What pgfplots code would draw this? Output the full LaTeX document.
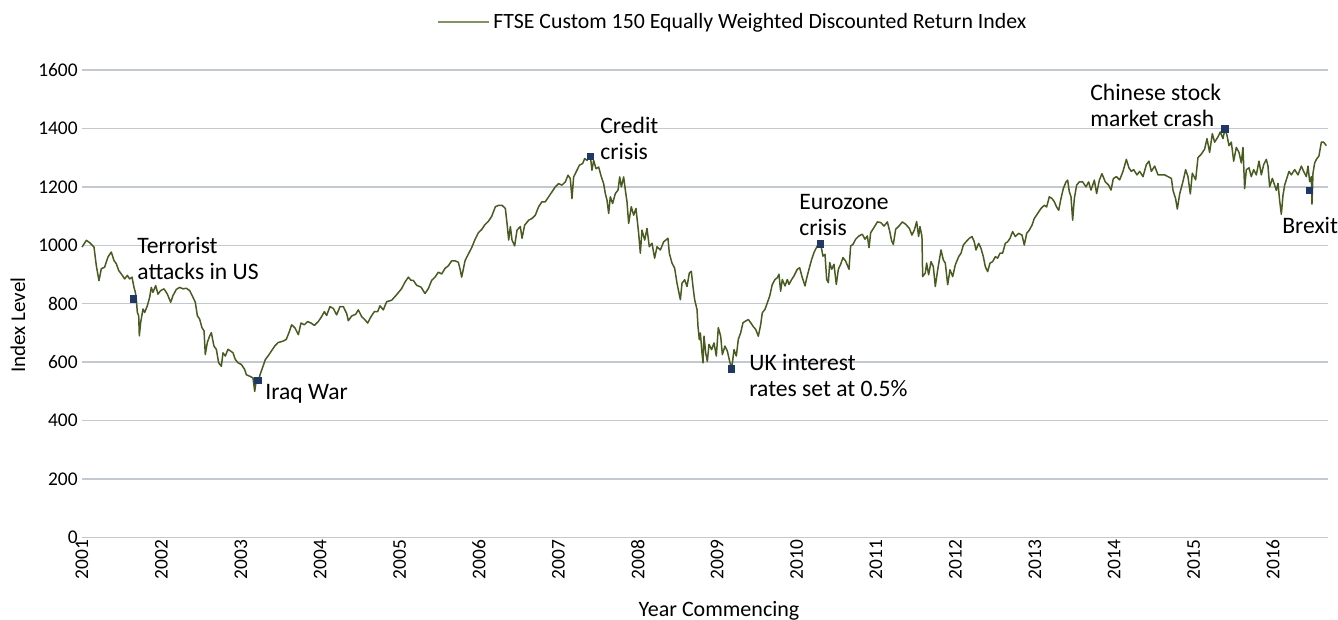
\documentclass[border=0pt]{standalone}
\usepackage{fontspec}
\setmainfont{Carlito}
\usepackage{pgfplots}
\pgfplotsset{compat=1.18}
\definecolor{seriesgreen}{RGB}{72,92,34}
\definecolor{legendgreen}{RGB}{130,148,100}
\definecolor{markerblue}{RGB}{31,56,100}
\definecolor{gridgray}{RGB}{196,200,207}
\begin{document}
\begin{tikzpicture}
\useasboundingbox (0,0) rectangle (669pt,310pt);
\begin{axis}[
  at={(41pt,41.25pt)}, anchor=south west,
  scale only axis, width=623pt, height=233.75pt,
  xmin=0, xmax=15.693, ymin=0, ymax=1600,
  xtick={0,1,2,3,4,5,6,7,8,9,10,11,12,13,14,15},
  xticklabels={2001,2002,2003,2004,2005,2006,2007,2008,2009,2010,2011,2012,2013,2014,2015,2016},
  ytick={0,200,400,600,800,1000,1200,1400,1600},
  yticklabels={0,200,400,600,800,1000,1200,1400,1600},
  ymajorgrids, major grid style={gridgray, line width=0.75pt},
  axis line style={draw=none}, major tick length=0pt,
  tick label style={font=\fontsize{9.7}{11}\selectfont},
  /pgf/number format/assume math mode=true,
  xticklabel style={rotate=90, anchor=east, inner sep=1pt},
  yticklabel style={inner sep=2pt},
  legend style={at={(0.523,1)}, anchor=center, yshift=24pt, draw=none, fill=none,
    font=\fontsize{10.9}{12}\selectfont, inner sep=0pt},
  legend image code/.code={\draw[legendgreen, line width=0.7pt] (0pt,0pt) -- (25.5pt,0pt);},
  clip=false
]
\addplot[seriesgreen, line width=0.75pt, line join=round] table {
0.000 994
0.055 1017
0.097 1009
0.151 994
0.180 931
0.202 897
0.214 879
0.243 920
0.285 925
0.327 960
0.369 977
0.403 948
0.432 937
0.462 914
0.495 902
0.537 885
0.571 897
0.600 885
0.630 891
0.655 856
0.672 839
0.684 816
0.697 770
0.714 759
0.722 690
0.739 736
0.768 782
0.789 770
0.823 793
0.852 822
0.873 856
0.894 839
0.928 862
0.957 833
0.991 845
1.033 851
1.075 833
1.117 805
1.146 828
1.188 849
1.230 856
1.272 851
1.314 853
1.356 845
1.398 822
1.427 805
1.453 759
1.482 747
1.511 718
1.537 707
1.553 626
1.578 667
1.608 690
1.629 701
1.662 655
1.692 644
1.721 598
1.755 586
1.776 632
1.805 621
1.839 644
1.872 638
1.902 632
1.931 609
1.965 598
2.007 592
2.049 575
2.070 557
2.112 552
2.154 546
2.175 500
2.196 540
2.217 534
2.250 563
2.280 586
2.309 609
2.343 621
2.385 638
2.427 655
2.469 667
2.532 672
2.573 678
2.615 707
2.641 728
2.683 717
2.725 694
2.758 734
2.800 728
2.842 739
2.884 734
2.926 726
2.976 739
3.018 756
3.052 773
3.081 760
3.123 790
3.165 784
3.207 762
3.249 790
3.291 790
3.333 767
3.354 742
3.396 758
3.447 764
3.480 779
3.522 756
3.564 745
3.598 734
3.640 756
3.682 773
3.724 773
3.753 793
3.795 779
3.837 807
3.900 812
3.963 831
4.026 852
4.068 874
4.110 891
4.144 880
4.173 880
4.215 863
4.270 857
4.320 835
4.362 852
4.404 880
4.446 891
4.488 908
4.530 902
4.572 921
4.614 930
4.656 947
4.698 947
4.740 942
4.761 919
4.782 891
4.824 947
4.866 970
4.908 992
4.950 1020
4.992 1043
5.034 1054
5.076 1071
5.118 1082
5.160 1099
5.206 1132
5.248 1137
5.290 1137
5.332 1126
5.353 1075
5.374 1018
5.395 1064
5.416 1018
5.449 998
5.479 1052
5.521 1064
5.542 1024
5.575 1069
5.626 1086
5.668 1092
5.709 1103
5.751 1132
5.793 1149
5.835 1149
5.877 1166
5.919 1183
5.961 1200
6.003 1211
6.045 1206
6.087 1217
6.121 1240
6.150 1228
6.171 1160
6.192 1234
6.234 1257
6.264 1274
6.306 1280
6.331 1297
6.360 1291
6.402 1305
6.423 1257
6.444 1291
6.474 1262
6.507 1268
6.541 1234
6.570 1211
6.591 1177
6.612 1155
6.633 1109
6.654 1166
6.683 1143
6.717 1177
6.751 1189
6.772 1234
6.793 1200
6.822 1234
6.843 1189
6.864 1149
6.885 1075
6.918 1132
6.948 1103
6.977 1126
7.011 1041
7.032 973
7.053 1052
7.087 1018
7.116 1058
7.145 995
7.179 1007
7.212 956
7.242 995
7.284 984
7.326 1012
7.380 1024
7.397 973
7.431 939
7.464 922
7.494 870
7.536 814
7.557 870
7.590 882
7.620 859
7.649 905
7.674 911
7.695 859
7.716 814
7.746 780
7.758 723
7.775 677
7.788 700
7.809 631
7.821 598
7.834 689
7.855 632
7.876 603
7.897 661
7.930 643
7.960 666
7.989 621
8.014 718
8.044 689
8.065 626
8.098 655
8.128 638
8.157 603
8.182 577
8.212 643
8.241 621
8.266 678
8.296 701
8.325 735
8.359 741
8.392 746
8.422 735
8.451 723
8.485 712
8.518 689
8.548 729
8.568 769
8.602 781
8.631 803
8.661 826
8.694 866
8.728 883
8.757 889
8.778 901
8.799 843
8.820 883
8.854 861
8.883 883
8.904 866
8.938 883
8.967 895
9.009 918
9.039 923
9.072 889
9.106 861
9.123 883
9.156 918
9.190 952
9.219 975
9.261 998
9.303 1005
9.332 963
9.358 969
9.379 883
9.400 872
9.417 941
9.442 918
9.471 935
9.500 866
9.526 918
9.555 935
9.584 958
9.618 946
9.660 918
9.681 998
9.710 1003
9.744 1021
9.786 1032
9.828 1038
9.861 1021
9.891 1032
9.912 992
9.933 1043
9.975 1061
10.017 1080
10.059 1078
10.101 1066
10.143 1080
10.172 1049
10.197 1015
10.218 1003
10.248 1055
10.290 1066
10.332 1080
10.374 1072
10.420 1058
10.453 1035
10.483 1052
10.512 1081
10.537 1030
10.554 1064
10.579 1030
10.588 893
10.621 905
10.638 939
10.663 899
10.693 944
10.722 927
10.747 859
10.777 916
10.819 984
10.848 950
10.873 939
10.903 865
10.932 916
10.966 893
10.999 933
11.041 961
11.071 973
11.100 1001
11.134 1012
11.175 1024
11.209 1030
11.238 1012
11.259 984
11.293 1007
11.322 990
11.352 961
11.377 927
11.406 910
11.436 939
11.469 944
11.503 961
11.532 956
11.562 973
11.595 973
11.629 1007
11.658 1012
11.688 1024
11.721 1047
11.755 1030
11.797 1041
11.839 1035
11.868 1001
11.898 1041
11.931 1052
11.965 1069
11.994 1092
12.036 1109
12.078 1126
12.120 1137
12.149 1131
12.183 1166
12.217 1160
12.246 1149
12.275 1131
12.301 1120
12.330 1160
12.359 1194
12.393 1217
12.414 1223
12.435 1183
12.456 1166
12.477 1086
12.498 1160
12.527 1206
12.561 1217
12.603 1217
12.645 1200
12.678 1217
12.708 1189
12.750 1223
12.779 1177
12.813 1223
12.846 1245
12.888 1217
12.930 1206
12.960 1189
12.989 1228
13.027 1235
13.069 1224
13.111 1253
13.153 1294
13.186 1265
13.216 1253
13.245 1259
13.287 1241
13.321 1253
13.363 1235
13.405 1276
13.438 1288
13.468 1253
13.510 1271
13.552 1241
13.594 1241
13.636 1241
13.678 1235
13.720 1229
13.741 1188
13.774 1159
13.795 1124
13.825 1176
13.866 1218
13.900 1259
13.929 1235
13.959 1176
13.984 1247
14.026 1224
14.055 1300
14.097 1312
14.139 1329
14.169 1365
14.202 1318
14.236 1382
14.265 1353
14.307 1371
14.337 1388
14.370 1365
14.395 1398
14.421 1376
14.446 1341
14.475 1353
14.505 1288
14.538 1335
14.572 1318
14.601 1282
14.622 1335
14.643 1194
14.664 1259
14.698 1265
14.727 1235
14.757 1259
14.790 1241
14.824 1288
14.853 1241
14.883 1276
14.916 1294
14.937 1271
14.958 1200
14.992 1229
15.021 1206
15.042 1188
15.063 1212
15.084 1153
15.105 1106
15.126 1171
15.147 1206
15.168 1224
15.202 1253
15.231 1241
15.273 1259
15.315 1241
15.357 1271
15.386 1253
15.420 1235
15.441 1271
15.462 1218
15.483 1235
15.491 1141
15.504 1247
15.525 1282
15.546 1294
15.579 1306
15.609 1353
15.638 1353
15.672 1341
};
\addlegendentry{FTSE Custom 150 Equally Weighted Discounted Return Index}
\addplot[only marks, mark=square*, mark size=1.6pt, color=markerblue, forget plot] coordinates {
(0.651,817) (2.217,537) (6.402,1305) (8.182,577) (9.303,1005) (14.395,1398) (15.462,1188)
};
\begin{scope}[every node/.style={font=\fontsize{11.8}{13}\selectfont, align=left, inner sep=0pt, anchor=west}]
\node at (axis cs:0.693,956) {Terrorist\\attacks in US};
\node at (axis cs:2.305,490) {Iraq War};
\node at (axis cs:6.524,1366) {Credit\\crisis};
\node at (axis cs:8.401,553) {UK interest\\rates set at 0.5\%};
\node at (axis cs:9.030,1102) {Eurozone\\crisis};
\node at (axis cs:12.695,1480) {Chinese stock\\market crash};
\node at (axis cs:15.113,1069) {Brexit};
\end{scope}
\end{axis}
\node[rotate=90, font=\fontsize{10.5}{12}\selectfont, inner sep=0pt] at (9pt,147.5pt) {Index Level};
\node[anchor=base, font=\fontsize{11}{12}\selectfont, inner sep=0pt] at (359.5pt,1.7pt) {Year Commencing};
\end{tikzpicture}
\end{document}
